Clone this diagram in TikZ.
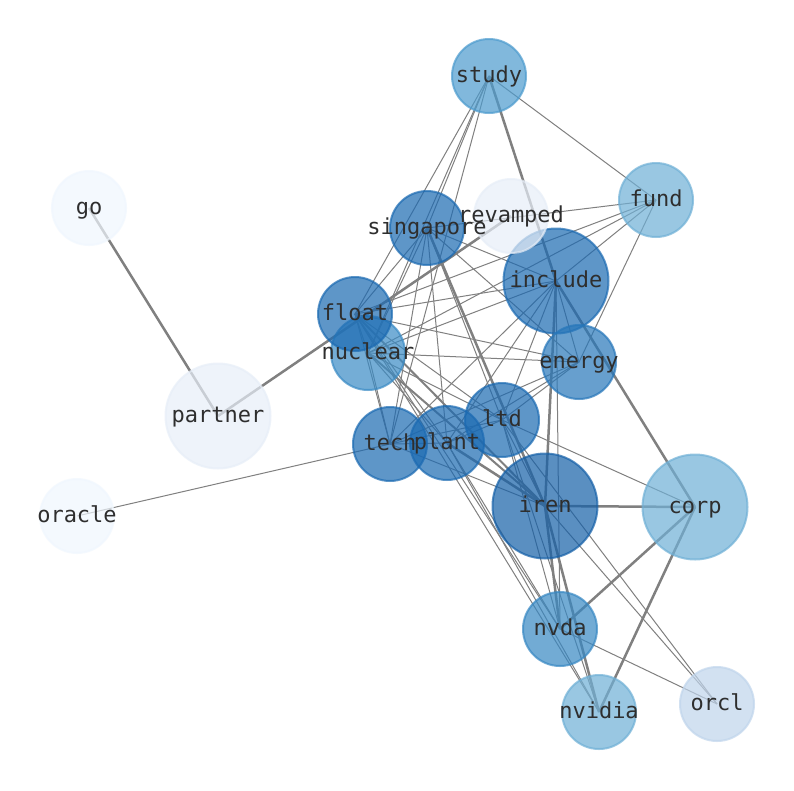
\documentclass[tikz,border=0pt]{standalone}
\usepackage{fontspec}
\setmonofont{DejaVu Sans Mono}
\usetikzlibrary{backgrounds}
\pgfdeclarelayer{paper}
\pgfsetlayers{paper,background,main}
\definecolor{cIren}{RGB}{21,96,168}
\definecolor{cDark}{RGB}{27,106,178}
\definecolor{cEnergy}{RGB}{39,119,186}
\definecolor{cNuc}{RGB}{58,139,197}
\definecolor{cNvda}{RGB}{55,136,195}
\definecolor{cStudy}{RGB}{76,155,206}
\definecolor{cLight}{RGB}{111,176,214}
\definecolor{cOrcl}{RGB}{192,213,236}
\definecolor{cPale}{RGB}{231,238,248}
\definecolor{cPaler}{RGB}{240,247,254}
\definecolor{edgegray}{RGB}{128,128,128}
\tikzset{
  vtx/.style={circle, inner sep=0pt, fill=#1, draw=#1, fill opacity=0.7, draw opacity=0.7, line width=2pt},
  smallv/.style={minimum size=74pt},
  bigv/.style={minimum size=105pt},
  lbl/.style={font=\ttfamily\fontsize{22}{22}\selectfont, text=black!82, inner sep=0pt, text height=16pt, text depth=4pt},
  thinedge/.style={draw=edgegray, line width=1pt},
  thickedge/.style={draw=edgegray, line width=2.5pt},
  midedge/.style={draw=edgegray, line width=2pt},
}
\begin{document}
\begin{tikzpicture}[x=1pt,y=-1pt]
\begin{pgfonlayer}{paper}
\fill[white] (0,0) rectangle (794,790);
\end{pgfonlayer}
\useasboundingbox (0,0) rectangle (794,790);
% nodes (drawing order)
\node[vtx=cPaler, smallv] (go) at (89,208) {};
\node[vtx=cPaler, smallv] (oracle) at (77,516) {};
\node[vtx=cPale, bigv] (partner) at (218,416) {};
\node[vtx=cStudy, smallv] (study) at (489,76) {};
\node[vtx=cLight, smallv] (fund) at (656,200) {};
\node[vtx=cDark, smallv] (singapore) at (427,228) {};
\node[vtx=cDark, bigv] (include) at (556,281) {};
\node[vtx=cPale, smallv] (revamped) at (511,216) {};
\node[vtx=cNuc, smallv] (nuclear) at (368,353) {};
\node[vtx=cDark, smallv] (float) at (355,314) {};
\node[vtx=cEnergy, smallv] (energy) at (579,362) {};
\node[vtx=cDark, smallv] (tech) at (390,444) {};
\node[vtx=cDark, smallv] (plant) at (447,443) {};
\node[vtx=cDark, smallv] (ltd) at (502,420) {};
\node[vtx=cIren, bigv] (iren) at (545,506) {};
\node[vtx=cLight, bigv] (corp) at (695,507) {};
\node[vtx=cNvda, smallv] (nvda) at (560,629) {};
\node[vtx=cLight, smallv] (nvidia) at (599,712) {};
\node[vtx=cOrcl, smallv] (orcl) at (717,704) {};
% edges behind nodes
\begin{pgfonlayer}{background}
\foreach \a/\b in {go/partner, partner/revamped, study/include, include/corp,
  include/iren, iren/corp, corp/nvda, corp/nvidia, singapore/iren, plant/iren,
  iren/nvda, iren/nvidia}
  \draw[thickedge] (\a.center) -- (\b.center);
\foreach \a/\b in {float/iren, nuclear/iren}
  \draw[midedge] (\a.center) -- (\b.center);
\foreach \a/\b in {oracle/tech, study/fund, study/singapore, study/nuclear, study/tech,
  study/float, fund/singapore, fund/include, fund/energy, fund/float, fund/nuclear,
  singapore/float, singapore/nuclear, singapore/tech, singapore/plant,
  singapore/include, singapore/energy, singapore/ltd,
  include/float, include/nuclear, include/tech, include/plant, include/ltd,
  include/energy, include/nvda,
  float/nuclear, float/energy, float/tech, float/plant, float/ltd, float/nvda,
  float/nvidia, nuclear/energy, nuclear/tech, nuclear/plant, nuclear/ltd,
  energy/ltd, energy/tech, energy/plant,
  ltd/tech, ltd/plant, ltd/iren, ltd/corp, ltd/orcl, ltd/nvidia, ltd/nvda,
  tech/plant, tech/iren, plant/nvda, plant/nvidia,
  iren/orcl, nvda/orcl}
  \draw[thinedge] (\a.center) -- (\b.center);
\end{pgfonlayer}
% labels
\foreach \n in {go, oracle, partner, study, fund, singapore, include, revamped,
  nuclear, float, energy, tech, plant, ltd, iren, corp, nvda, nvidia, orcl}
  \node[lbl] (\n-t) at (\n.center) {\n};
\end{tikzpicture}
\end{document}
